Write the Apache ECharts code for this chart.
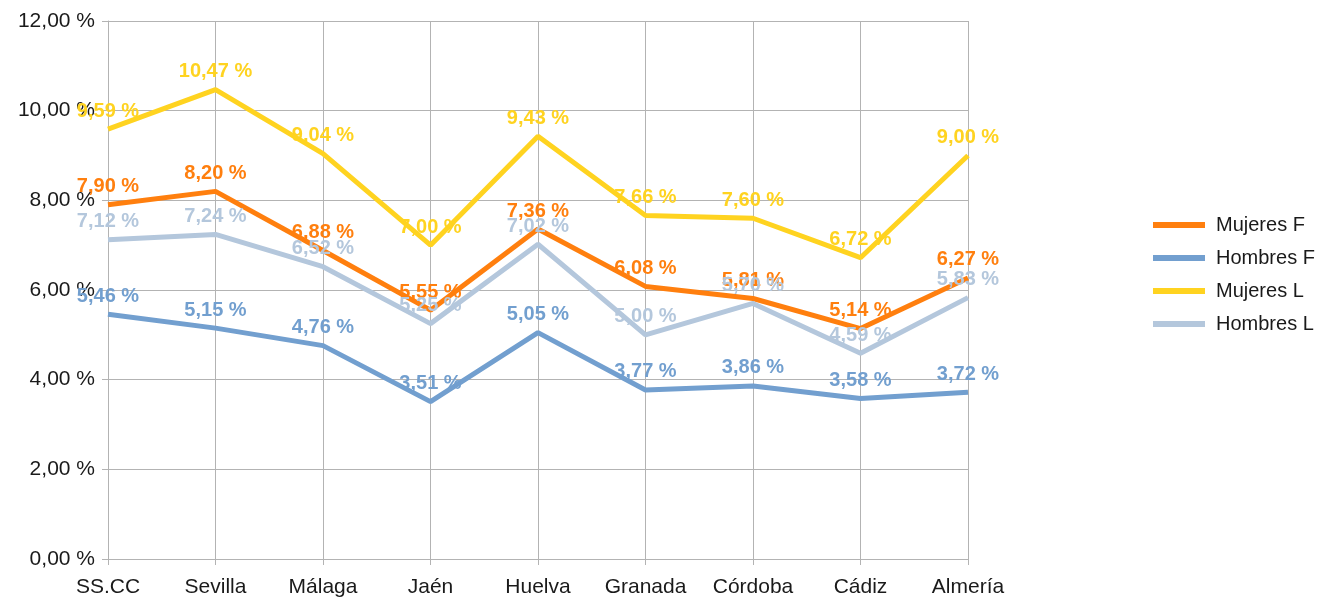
<!DOCTYPE html>
<html>
<head>
<meta charset="utf-8">
<script src="https://cdn.jsdelivr.net/npm/echarts@6/dist/echarts.min.js"></script>
<style>
  html, body { margin: 0; padding: 0; background: #ffffff; }
  #chart { width: 1335px; height: 598px; }
</style>
</head>
<body>
<div id="chart"></div>
<script>
// provincias
const categories = ['SS.CC', 'Sevilla', 'Málaga', 'Jaén', 'Huelva', 'Granada', 'Córdoba', 'Cádiz', 'Almería'];

const mujeresF = [7.90, 8.20, 6.88, 5.55, 7.36, 6.08, 5.81, 5.14, 6.27];
const hombresF = [5.46, 5.15, 4.76, 3.51, 5.05, 3.77, 3.86, 3.58, 3.72];
const mujeresL = [9.59, 10.47, 9.04, 7.00, 9.43, 7.66, 7.60, 6.72, 9.00];
const hombresL = [7.12, 7.24, 6.52, 5.25, 7.02, 5.00, 5.70, 4.59, 5.83];

const seriesNames = ['Mujeres F', 'Hombres F', 'Mujeres L', 'Hombres L'];
const seriesColors = ['#ff7f0e', '#729fcf', '#ffd320', '#b4c7dc'];

const fmt = v => v.toFixed(2).replace('.', ',') + ' %';

function makeSeries(name, data, color) {
  return {
    name: name,
    type: 'line',
    data: data,
    showSymbol: true,
    symbol: 'circle',
    symbolSize: 0,
    lineStyle: { width: 5, color: color },
    itemStyle: { color: color },
    label: {
      show: true,
      position: 'top',
      distance: 8,
      color: color,
      fontFamily: 'Liberation Sans',
      fontWeight: 'bold',
      fontSize: 20,
      formatter: p => fmt(p.value)
    },
    labelLayout: { hideOverlap: false },
    emphasis: { disabled: true }
  };
}

const chart = echarts.init(document.getElementById('chart'));
chart.setOption({
  backgroundColor: '#ffffff',
  animation: false,
  textStyle: { fontFamily: 'Liberation Sans' },
  grid: { left: 108, right: 367, top: 21, bottom: 38 },
  legend: {
    orient: 'vertical',
    left: 1148,
    top: 210,
    itemWidth: 52,
    itemHeight: 6,
    itemGap: 13,
    icon: 'rect',
    textStyle: { fontSize: 20, color: '#1a1a1a', fontFamily: 'Liberation Sans', padding: [0, 0, 0, 6] },
    data: seriesNames
  },
  xAxis: {
    type: 'category',
    data: categories,
    boundaryGap: false,
    axisLine: { lineStyle: { color: '#b3b3b3', width: 1 } },
    axisTick: { show: true, length: 6, lineStyle: { color: '#b3b3b3' } },
    splitLine: { show: true, lineStyle: { color: '#b3b3b3', width: 1 } },
    axisLabel: { color: '#1a1a1a', fontSize: 21, margin: 18 }
  },
  yAxis: {
    type: 'value',
    min: 0,
    max: 12,
    interval: 2,
    axisLine: { show: true, lineStyle: { color: '#b3b3b3', width: 1 } },
    axisTick: { show: true, length: 6, lineStyle: { color: '#b3b3b3' } },
    splitLine: { show: true, lineStyle: { color: '#b3b3b3', width: 1 } },
    axisLabel: { color: '#1a1a1a', fontSize: 21, margin: 13, formatter: v => fmt(v) }
  },
  series: [
    makeSeries(seriesNames[0], mujeresF, seriesColors[0]),
    makeSeries(seriesNames[1], hombresF, seriesColors[1]),
    makeSeries(seriesNames[2], mujeresL, seriesColors[2]),
    makeSeries(seriesNames[3], hombresL, seriesColors[3])
  ]
});
</script>
</body>
</html>
